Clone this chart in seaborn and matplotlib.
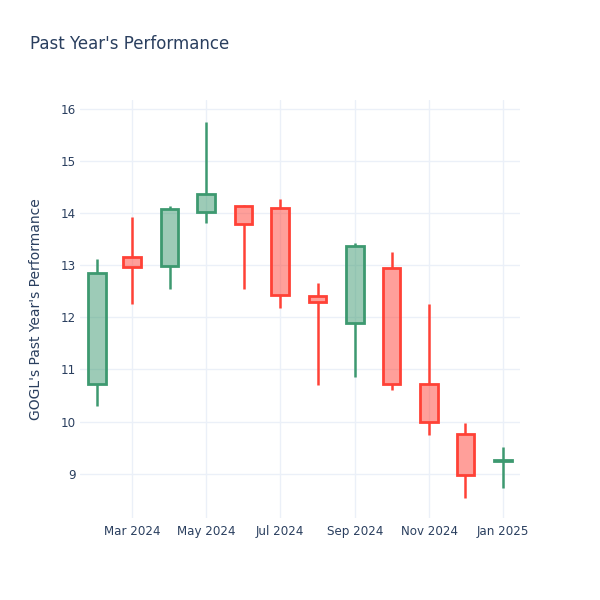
import numpy as np
import pandas as pd
import matplotlib
matplotlib.use("Agg")
import matplotlib.pyplot as plt
import matplotlib.dates as mdates
import seaborn as sns

# monthly OHLC
dates = pd.date_range("2024-02-01", periods=12, freq="MS")
opens = [10.72, 13.15, 12.98, 14.02, 14.13, 14.10, 12.40, 11.90, 12.94, 10.73, 9.76, 9.25]
highs = [13.12, 13.93, 14.14, 15.75, 14.16, 14.27, 12.66, 13.42, 13.25, 12.25, 9.97, 9.52]
lows = [10.30, 12.25, 12.54, 13.81, 12.54, 12.18, 10.71, 10.85, 10.61, 9.74, 8.53, 8.73]
closes = [12.86, 12.96, 14.08, 14.37, 13.79, 12.42, 12.30, 13.37, 10.72, 10.00, 8.97, 9.27]

UP = "#3D9970"
DOWN = "#FF4136"
TEXT = "#2a3f5f"
GRID = "#EBF0F8"

df = pd.DataFrame({"date": dates, "open": opens, "high": highs,
                   "low": lows, "close": closes})
df["up"] = df["close"] >= df["open"]

sns.set_theme(style="whitegrid")
plt.rcParams["font.family"] = ["DejaVu Sans"]

fig = plt.figure(figsize=(6, 6), dpi=100)
ax = fig.add_axes([80 / 600, 1 - 518 / 600, 440 / 600, 418 / 600])
ax.set_facecolor("white")

for _, r in df.iterrows():
    col = UP if r["up"] else DOWN
    lo_body = min(r["open"], r["close"])
    hi_body = max(r["open"], r["close"])
    ax.vlines(r["date"], r["low"], lo_body, color=col, lw=1.8, zorder=2)
    ax.vlines(r["date"], hi_body, r["high"], color=col, lw=1.8, zorder=2)
    ax.bar(r["date"], hi_body - lo_body, bottom=lo_body, width=14.5,
           facecolor=matplotlib.colors.to_rgba(col, 0.5), edgecolor=col,
           linewidth=2, zorder=3)

ax.set_ylim(8.15, 16.17)
ax.set_xlim(pd.Timestamp("2024-01-18"), pd.Timestamp("2025-01-15"))
ax.set_yticks(range(9, 17))
ax.xaxis.set_major_locator(mdates.MonthLocator(bymonth=[1, 3, 5, 7, 9, 11]))
ax.xaxis.set_major_formatter(mdates.DateFormatter("%b %Y"))

ax.grid(True, color=GRID, lw=1)
ax.set_axisbelow(True)
for s in ax.spines.values():
    s.set_visible(False)
ax.tick_params(axis="both", length=0, labelsize=8.6, colors=TEXT)
ax.tick_params(axis="y", pad=3)
ax.tick_params(axis="x", pad=5)

ax.set_ylabel("GOGL's Past Year's Performance", fontsize=10, color=TEXT, labelpad=13)
ax.set_xlabel("")
fig.text(30 / 600, 1 - 44 / 600, "Past Year's Performance", fontsize=12,
         color=TEXT, va="center", ha="left")

fig.savefig("out.png", dpi=100, facecolor="white")
